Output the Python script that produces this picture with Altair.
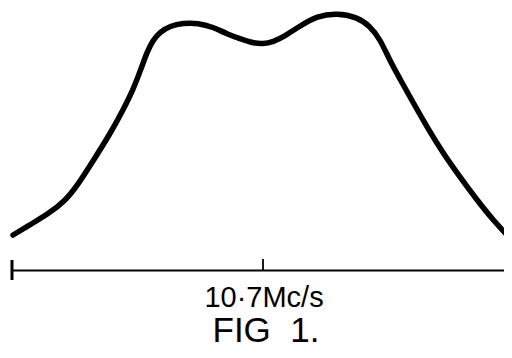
import altair as alt
import pandas as pd

# Response curve (frequency offset from 10.7 Mc/s centre, arbitrary units; relative response)
freq_offset = [-250, -230, -215, -198, -186, -170, -153, -140, -130, -122, -116, -110, -103, -93,
               -80, -65, -50, -36, -22, -10, 0, 10, 22, 37, 54, 74, 94, 107, 117, 127,
               137, 147, 164, 180, 197, 214, 230, 246]
response = [123, 135, 144, 157, 172, 197, 224, 248, 268, 289, 306, 318, 326, 332,
            335, 335, 331, 324, 319, 315, 314, 316, 322, 332, 342, 345, 341, 332, 319, 297,
            279, 261, 231, 205, 181, 158, 138, 121]

# Frequency baseline
axis_start = [-251]
axis_end = [241]
axis_level = [87.5]
centre_tick = [0]
tick_top = [99]
cap_bottom = [78]
cap_top = [98]

centre_label = ["10·7Mc/s"]
fig_label = ["FIG\u00a0 1."]

X = alt.Scale(domain=[-255, 241], nice=False, zero=False)
Y = alt.Scale(domain=[8, 350], nice=False, zero=False)

curve_df = pd.DataFrame({"f": freq_offset, "r": response})
curve = alt.Chart(curve_df).mark_line(
    color="black", strokeWidth=5.5, interpolate="basis", strokeCap="round"
).encode(
    x=alt.X("f:Q", scale=X, axis=None),
    y=alt.Y("r:Q", scale=Y, axis=None),
)

base_df = pd.DataFrame({"x1": axis_start, "x2": axis_end, "y": axis_level})
baseline = alt.Chart(base_df).mark_rule(color="black", strokeWidth=2.2).encode(
    x=alt.X("x1:Q", scale=X, axis=None), x2="x2:Q",
    y=alt.Y("y:Q", scale=Y, axis=None),
)

tick_df = pd.DataFrame({"x": centre_tick, "y1": axis_level, "y2": tick_top})
tick = alt.Chart(tick_df).mark_rule(color="black", strokeWidth=1.8).encode(
    x=alt.X("x:Q", scale=X, axis=None),
    y=alt.Y("y1:Q", scale=Y, axis=None), y2="y2:Q",
)

cap_df = pd.DataFrame({"x": axis_start, "y1": cap_bottom, "y2": cap_top})
cap = alt.Chart(cap_df).mark_rule(color="black", strokeWidth=3).encode(
    x=alt.X("x:Q", scale=X, axis=None),
    y=alt.Y("y1:Q", scale=Y, axis=None), y2="y2:Q",
)

lab_df = pd.DataFrame({"x": [1], "y": [51], "t": centre_label})
lab = alt.Chart(lab_df).mark_text(
    font="Liberation Sans", fontSize=29, color="black", baseline="alphabetic", align="center"
).encode(
    x=alt.X("x:Q", scale=X, axis=None),
    y=alt.Y("y:Q", scale=Y, axis=None),
    text="t:N",
)

fig_df = pd.DataFrame({"x": [3], "y": [16], "t": fig_label})
fig = alt.Chart(fig_df).mark_text(
    font="Liberation Sans", fontSize=35, color="black", baseline="alphabetic", align="center"
).encode(
    x=alt.X("x:Q", scale=X, axis=None),
    y=alt.Y("y:Q", scale=Y, axis=None),
    text="t:N",
)

chart = alt.layer(curve, baseline, tick, cap, lab, fig).properties(
    width=496, height=342, padding=0, autosize="none", background="white"
).configure_view(stroke=None)

chart.save("out.html", embed_options={"renderer": "svg", "actions": False})
